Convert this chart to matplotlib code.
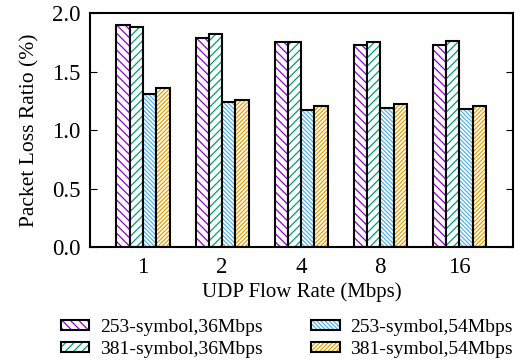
import matplotlib.pyplot as plt
import numpy as np
from matplotlib.patches import Patch

plt.rcParams['font.family'] = ['Liberation Serif', 'DejaVu Serif']
plt.rcParams['hatch.linewidth'] = 0.9

rates = ['1', '2', '4', '8', '16']
labels = ['253-symbol,36Mbps', '381-symbol,36Mbps', '253-symbol,54Mbps', '381-symbol,54Mbps']
s253_36 = [1.90, 1.79, 1.75, 1.73, 1.73]
s381_36 = [1.88, 1.82, 1.75, 1.75, 1.76]
s253_54 = [1.31, 1.24, 1.17, 1.19, 1.18]
s381_54 = [1.36, 1.26, 1.21, 1.22, 1.21]

series = [s253_36, s381_36, s253_54, s381_54]
colors = ['#9400D3', '#009E73', '#56B4E9', '#E69F00']
hatches = ['\\' * 4, '/' * 4, '\\' * 8, '/' * 8]

fig = plt.figure(figsize=(5.2, 3.64), dpi=100)
ax = fig.add_axes([0.173, 0.321, 0.814, 0.643])

x = np.arange(len(rates))
w = 0.168
handles = []
for i, vals in enumerate(series):
    pos = x + (i - 1.5) * w
    ax.bar(pos, vals, w, color='white', edgecolor=colors[i], hatch=hatches[i], linewidth=0)
    ax.bar(pos, vals, w, fill=False, edgecolor='black', linewidth=1.5)
    handles.append((Patch(facecolor='white', edgecolor=colors[i], hatch=hatches[i], linewidth=0),
                    Patch(fill=False, edgecolor='black', linewidth=1.5)))

ax.set_xlim(-0.67, 4.68)
ax.set_ylim(0, 2.0)
ax.set_xticks(x)
ax.set_xticklabels(rates)
ax.set_yticks([0, 0.5, 1.0, 1.5, 2.0])
ax.set_yticklabels(['0.0', '0.5', '1.0', '1.5', '2.0'])
ax.tick_params(axis='x', length=0, labelsize=16.5, pad=7)
ax.tick_params(axis='y', direction='in', right=True, labelsize=16.5, length=5, pad=7)
for sp in ax.spines.values():
    sp.set_linewidth(1.5)
ax.set_xlabel('UDP Flow Rate (Mbps)', fontsize=15, labelpad=3)
ax.set_ylabel('Packet Loss Ratio (%)', fontsize=15.5, labelpad=9)

fig.legend(handles, labels, loc='lower center', bbox_to_anchor=(0.552, -0.02), ncol=2,
           frameon=False, fontsize=14, handlelength=1.45, handleheight=0.42,
           columnspacing=2.5, labelspacing=0.25, handletextpad=0.55, borderpad=0.2)

fig.savefig('out.png', dpi=100)
